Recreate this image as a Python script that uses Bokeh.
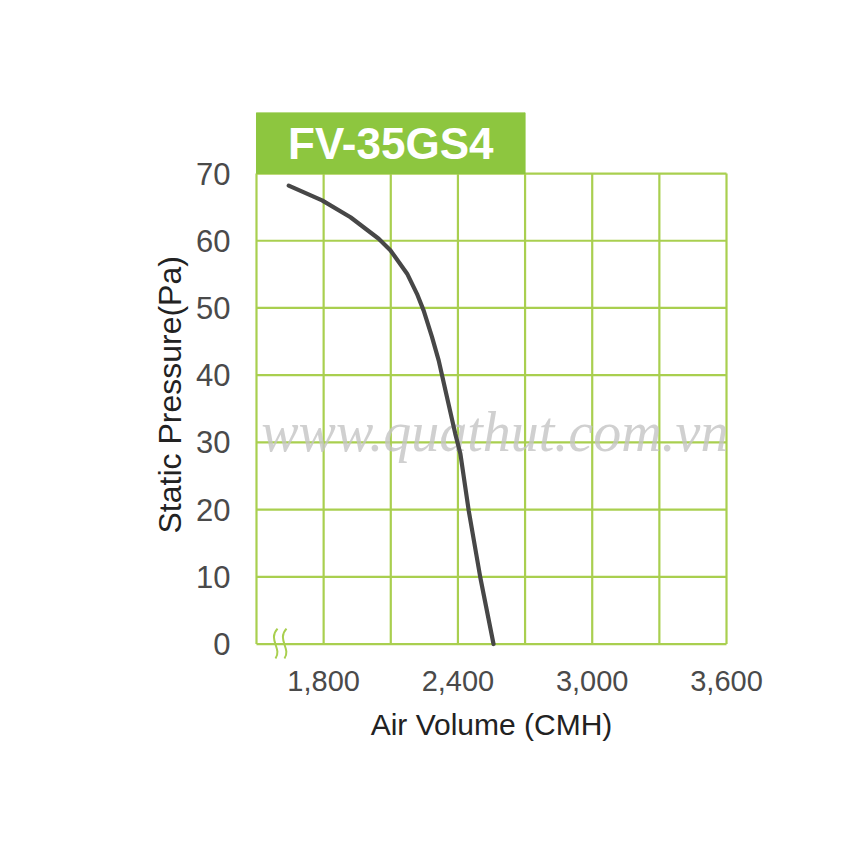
from bokeh.plotting import figure
from bokeh.models import FixedTicker, NumeralTickFormatter, Range1d, Title
from bokeh.core.properties import value
from bokeh.embed import file_html
from bokeh.resources import INLINE

# ---- data ----
model_name = "FV-35GS4"
air_volume = [1644, 1793, 1920, 2046, 2098, 2173, 2217, 2247, 2284, 2314, 2329, 2388, 2411, 2448, 2500, 2559]
static_pressure = [68.2, 66.0, 63.5, 60.3, 58.6, 55.1, 52.1, 49.6, 45.7, 42.2, 40.0, 31.3, 28.3, 19.9, 9.9, 0.0]
x_ticks = [1800, 2400, 3000, 3600]
y_ticks = [0, 10, 20, 30, 40, 50, 60, 70]
x_grid = [1500, 1800, 2100, 2400, 2700, 3000, 3300, 3600]
y_grid = [0, 10, 20, 30, 40, 50, 60, 70]
watermark = "www.quathut.com.vn"
x_title = "Air Volume (CMH)"
y_title = "Static Pressure(Pa)"

X_MIN, X_MAX = 1500, 3600
Y_MIN, Y_MAX = 0, 70
TITLE_TOP = 79.08
TITLE_RIGHT = 2700

GREEN = "#8dc63f"
GRID = "#a9cf4f"
TICK_FONT = "Liberation Sans"

p = figure(width=771, height=770, output_backend="svg", toolbar_location=None,
           x_range=Range1d(1477.7, 3622.3), y_range=Range1d(-2.45, TITLE_TOP),
           min_border_left=251, min_border_right=40, min_border_top=112, min_border_bottom=110)
p.outline_line_color = None
p.xgrid.visible = False
p.ygrid.visible = False
p.background_fill_color = "white"

# grid
p.segment(x0=x_grid, y0=[Y_MIN] * len(x_grid), x1=x_grid, y1=[Y_MAX] * len(x_grid),
          line_color=GRID, line_width=2.2)
p.segment(x0=[X_MIN] * len(y_grid), y0=y_grid, x1=[X_MAX] * len(y_grid), y1=y_grid,
          line_color=GRID, line_width=2.2)

# title box
p.quad(left=[X_MIN], right=[TITLE_RIGHT], bottom=[Y_MAX], top=[TITLE_TOP],
       fill_color=GREEN, line_color=GREEN, line_width=1)
p.text(x=[(X_MIN + TITLE_RIGHT) / 2], y=[(Y_MAX + TITLE_TOP) / 2], text=[model_name],
       text_font=value("Liberation Sans"), text_font_style="bold", text_font_size="44px",
       text_color="white", text_align="center", text_baseline="middle")

# watermark
p.text(x=[(X_MIN + X_MAX) / 2 + 15], y=[31.6], text=[watermark],
       text_font=value("Liberation Serif"), text_font_style="italic", text_font_size="56px",
       text_color="#c4c4c4", text_alpha=0.8, text_align="center", text_baseline="alphabetic")

# axis break symbol
bx = X_MIN + 94
for dx in (0, 40):
    p.bezier(x0=[bx + dx], y0=[2.3], x1=[bx + dx - 9], y1=[-2.15],
             cx0=[bx + dx - 45], cy0=[0.67], cx1=[bx + dx + 22], cy1=[-0.67],
             line_color=GRID, line_width=2)

# curve
p.line(air_volume, static_pressure, line_color="#474747", line_width=4.2, line_cap="round")

# axes
xa = p.xaxis[0]
xa.ticker = FixedTicker(ticks=x_ticks)
xa.formatter = NumeralTickFormatter(format="0,0")
xa.axis_line_color = None
xa.major_tick_line_color = None
xa.minor_tick_line_color = None
xa.major_tick_out = 0
xa.major_label_standoff = 10
xa.major_label_text_font = TICK_FONT
xa.major_label_text_font_size = "29px"
xa.major_label_text_color = "#4a4a4a"
xa.axis_label = x_title
xa.axis_label_text_font = "Liberation Sans"
xa.axis_label_text_font_style = "normal"
xa.axis_label_text_font_size = "30px"
xa.axis_label_text_color = "#222222"
xa.axis_label_standoff = 14

ya = p.yaxis[0]
ya.ticker = FixedTicker(ticks=y_ticks)
ya.axis_line_color = None
ya.major_tick_line_color = None
ya.minor_tick_line_color = None
ya.major_tick_out = 0
ya.major_label_standoff = 21
ya.major_label_text_font = TICK_FONT
ya.major_label_text_font_size = "31px"
ya.major_label_text_color = "#4a4a4a"

# y-axis title as a side title so that it can be offset like the reference
p.add_layout(Title(text=y_title, align="left", offset=127, standoff=12,
                   text_font="Liberation Sans", text_font_size="32px",
                   text_font_style="normal", text_color="#222222"), "left")

open("out.html", "w").write(file_html(p, INLINE))
